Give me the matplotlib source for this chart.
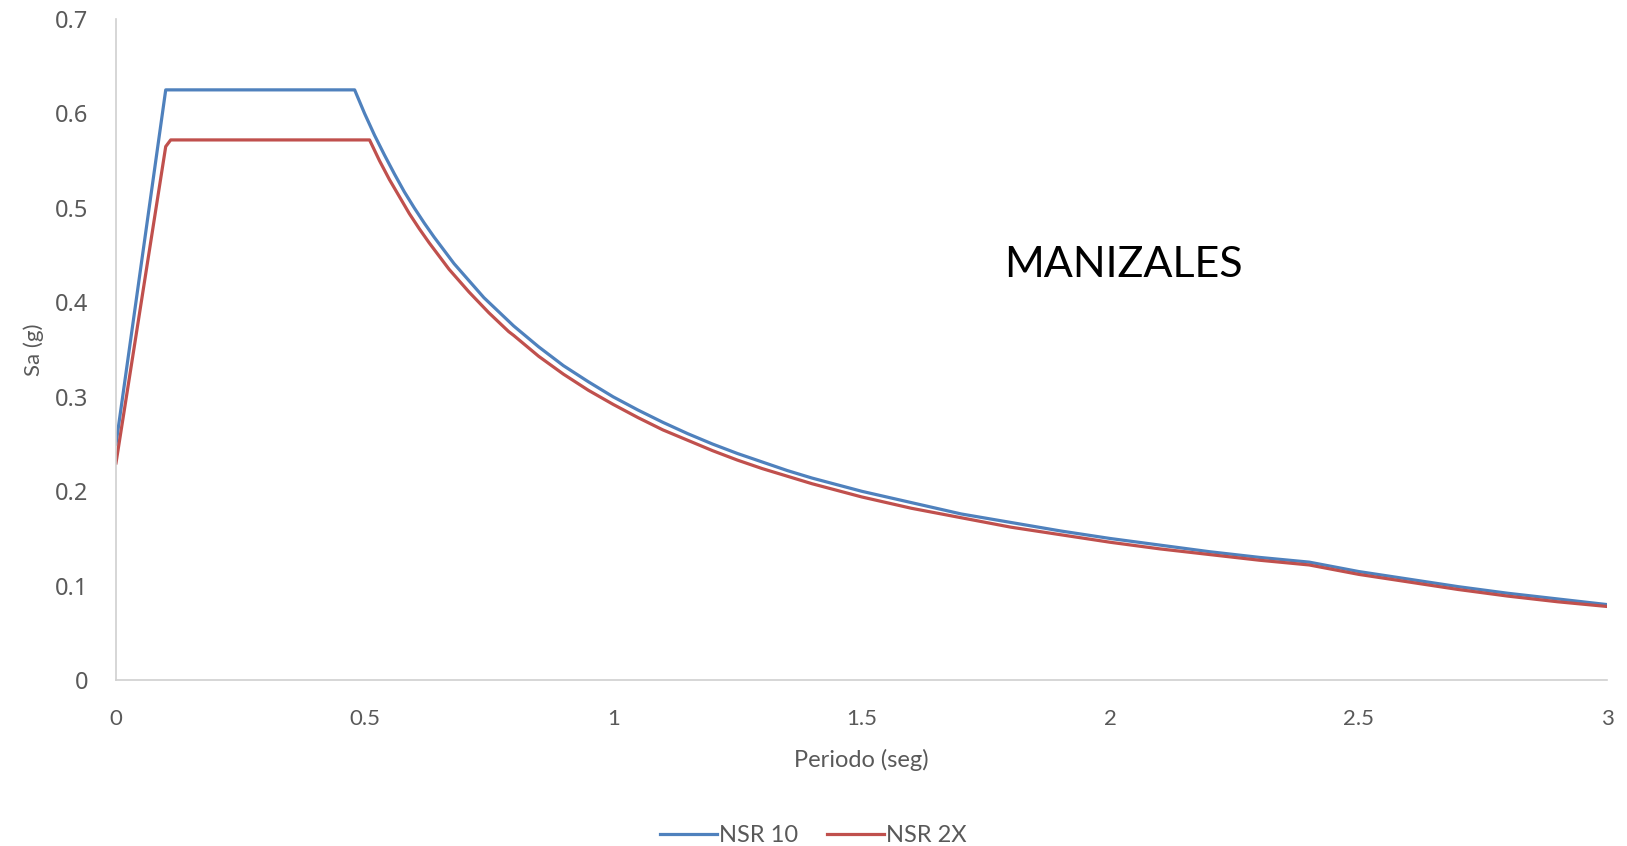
import matplotlib
matplotlib.use("Agg")
import matplotlib.pyplot as plt

# Data
periodo_nsr10 = [0, 0.1, 0.48, 0.5, 0.52, 0.54, 0.56, 0.58, 0.6, 0.62, 0.64, 0.66, 0.68, 0.7,
                 0.72, 0.74, 0.76, 0.78, 0.8, 0.85, 0.9, 0.95, 1.0, 1.05, 1.1, 1.15, 1.2, 1.25,
                 1.3, 1.35, 1.4, 1.45, 1.5, 1.6, 1.7, 1.8, 1.9, 2.0, 2.1, 2.2, 2.3, 2.4,
                 2.5, 2.6, 2.7, 2.8, 2.9, 3.0]
sa_nsr10 = [0.25, 0.625, 0.625, 0.600, 0.577, 0.556, 0.536, 0.517, 0.500, 0.484, 0.469, 0.455, 0.441, 0.429,
            0.417, 0.405, 0.395, 0.385, 0.375, 0.353, 0.333, 0.316, 0.300, 0.286, 0.273, 0.261, 0.250, 0.240,
            0.231, 0.222, 0.214, 0.207, 0.200, 0.188, 0.176, 0.167, 0.158, 0.150, 0.143, 0.136, 0.130, 0.125,
            0.115, 0.107, 0.099, 0.092, 0.086, 0.080]

periodo_nsr2x = [0, 0.1, 0.11, 0.51, 0.53, 0.55, 0.57, 0.59, 0.61, 0.63, 0.65, 0.67, 0.69, 0.71,
                 0.73, 0.75, 0.77, 0.79, 0.8, 0.85, 0.9, 0.95, 1.0, 1.05, 1.1, 1.15, 1.2, 1.25,
                 1.3, 1.35, 1.4, 1.45, 1.5, 1.6, 1.7, 1.8, 1.9, 2.0, 2.1, 2.2, 2.3, 2.4,
                 2.5, 2.6, 2.7, 2.8, 2.9, 3.0]
sa_nsr2x = [0.23, 0.565, 0.572, 0.572, 0.550, 0.530, 0.512, 0.494, 0.478, 0.463, 0.449, 0.435, 0.423, 0.411,
            0.400, 0.389, 0.379, 0.369, 0.365, 0.343, 0.324, 0.307, 0.292, 0.278, 0.265, 0.254, 0.243, 0.233,
            0.224, 0.216, 0.208, 0.201, 0.194, 0.182, 0.172, 0.162, 0.154, 0.146, 0.139, 0.133, 0.127, 0.122,
            0.112, 0.104, 0.096, 0.089, 0.083, 0.078]

x_ticks = [0, 0.5, 1, 1.5, 2, 2.5, 3]
x_tick_labels = ["0", "0.5", "1", "1.5", "2", "2.5", "3"]
y_ticks = [0, 0.1, 0.2, 0.3, 0.4, 0.5, 0.6, 0.7]
y_tick_labels = ["0", "0.1", "0.2", "0.3", "0.4", "0.5", "0.6", "0.7"]

gray = "#595959"
fig = plt.figure(figsize=(16.27, 8.46), dpi=100)
ax = fig.add_axes([0.0713, 0.196, 0.9167, 0.7815])

ax.plot(periodo_nsr10, sa_nsr10, color="#4F81BD", lw=2.3, label="NSR 10", solid_joinstyle="round")
ax.plot(periodo_nsr2x, sa_nsr2x, color="#C0504D", lw=2.3, label="NSR 2X", solid_joinstyle="round")

ax.set_xlim(0, 3)
ax.set_ylim(0, 0.7)
ax.set_xticks(x_ticks)
ax.set_xticklabels(x_tick_labels, fontsize=16, color=gray, family="Lato")
ax.set_yticks(y_ticks)
ax.set_yticklabels(y_tick_labels, fontsize=17, color=gray, family="Noto Sans")
ax.tick_params(axis="x", length=0, pad=21)
ax.tick_params(axis="y", length=0, pad=20)

for s in ["top", "right"]:
    ax.spines[s].set_visible(False)
for s in ["left", "bottom"]:
    ax.spines[s].set_color("#D0D0D0")
    ax.spines[s].set_linewidth(1.2)

ax.set_xlabel("Periodo (seg)", fontsize=17, color=gray, family="Lato", labelpad=14)
ax.set_ylabel("Sa (g)", fontsize=16, color=gray, family="Lato", labelpad=8)

ax.text(2.027, 0.44, "MANIZALES", fontsize=31, color="black", family="Lato",
        fontweight="normal", ha="center", va="center")

leg = fig.legend(loc="center", bbox_to_anchor=(0.5, 0.012), ncol=2, frameon=False,
                 fontsize=17, handlelength=2.4, handletextpad=0.1, columnspacing=1.2)
for t in leg.get_texts():
    t.set_color(gray)
    t.set_family("Lato")

fig.savefig("out.png", dpi=100)
